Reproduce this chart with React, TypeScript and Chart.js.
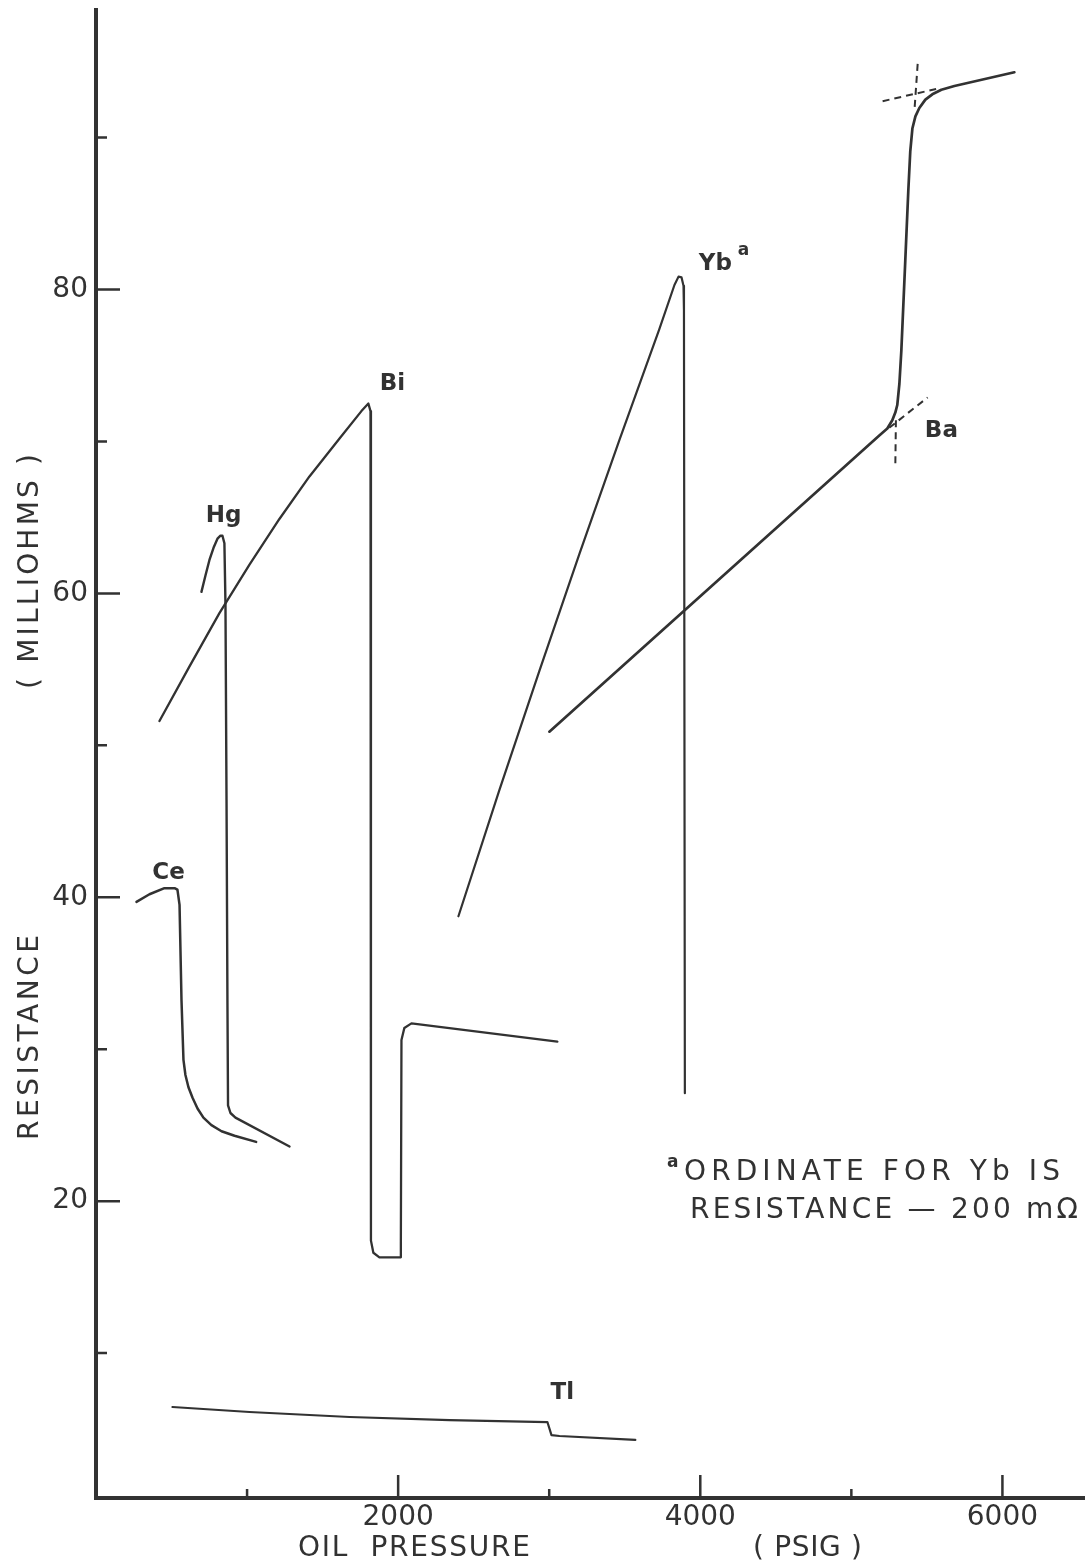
import { useEffect, useRef } from "react";
import { Chart, registerables } from "chart.js";

Chart.register(...registerables);

// Oil pressure (psig) against resistance (milliohms) for each metal
const ceP = [268, 354, 453, 520, 539, 553, 566, 579, 592, 612, 639, 672, 711, 764, 831, 917, 1060];
const ceR = [39.7, 40.2, 40.6, 40.6, 40.5, 39.5, 33.2, 29.3, 28.3, 27.5, 26.8, 26.1, 25.5, 25.0, 24.6, 24.3, 23.9];

const hgP = [698, 725, 751, 778, 804, 824, 837, 850, 857, 864, 870, 874, 890, 923, 1281];
const hgR = [60.1, 61.2, 62.2, 63.0, 63.6, 63.8, 63.8, 63.3, 59.3, 46.4, 33.2, 26.3, 25.8, 25.5, 23.6];

const biP = [420, 619, 817, 1016, 1214, 1413, 1612, 1757, 1803, 1817, 1820, 1836, 1876, 2015, 2018, 2022, 2041, 2088, 3054];
const biR = [51.6, 55.2, 58.7, 61.9, 64.9, 67.7, 70.2, 72.0, 72.5, 72.0, 17.4, 16.6, 16.3, 16.3, 17.4, 30.6, 31.4, 31.7, 30.5];

// Yb is plotted as resistance - 200 mOhm
const ybP = [2399, 2670, 2935, 3200, 3465, 3729, 3829, 3856, 3876, 3889, 3892, 3898];
const ybR = [38.75, 47.05, 54.9, 62.6, 70.1, 77.4, 80.3, 80.85, 80.8, 80.25, 78.6, 27.1];

const baP = [3001, 5185, 5238, 5271, 5291, 5304, 5318, 5331, 5357, 5377, 5390, 5404, 5424, 5450, 5490, 5536, 5596, 5682, 6079];
const baR = [50.9, 70.4, 70.85, 71.4, 71.9, 72.4, 73.8, 76.0, 81.9, 86.5, 89.1, 90.6, 91.4, 91.95, 92.5, 92.85, 93.15, 93.4, 94.3];

const tlP = [506, 1016, 1678, 2340, 2988, 3015, 3068, 3570];
const tlR = [6.45, 6.12, 5.79, 5.59, 5.46, 4.6, 4.54, 4.28];

// Construction lines marking the two Ba transition knees
const baUpperSlopeP = [5207, 5561];
const baUpperSlopeR = [92.4, 93.2];
const baUpperRiseP = [5439, 5417];
const baUpperRiseR = [94.85, 91.7];
const baLowerSlopeP = [5251, 5505];
const baLowerSlopeR = [70.9, 72.9];
const baLowerRiseP = [5295, 5291];
const baLowerRiseR = [71.4, 68.4];

// Curve labels, anchored in data coordinates
const labelNames = ["Ce", "Hg", "Bi", "Yb", "Ba", "Tl"];
const labelP = [480, 844, 1962, 4100, 5596, 3087];
const labelR = [41.6, 65.1, 73.8, 81.7, 70.7, 7.4];

// Axis ticks
const xTickValues = [1000, 2000, 3000, 4000, 5000, 6000];
const xLabelled = [2000, 4000, 6000];
const yTickValues = [10, 20, 30, 40, 50, 60, 70, 80, 90];
const yLabelled = [20, 40, 60, 80];

const INK = "#323232";
const FONT = "DejaVu Sans";

const toPoints = (p: number[], r: number[]) => p.map((x, i) => ({ x, y: r[i] }));

function spacedText(ctx: CanvasRenderingContext2D, text: string, x: number, y: number, width: number) {
  (ctx as any).letterSpacing = "0px";
  const w = ctx.measureText(text).width;
  const n = Array.from(text).length;
  const sp = n > 1 ? (width - w) / (n - 1) : 0;
  (ctx as any).letterSpacing = `${sp}px`;
  ctx.fillText(text, x, y);
  (ctx as any).letterSpacing = "0px";
}

const inwardTicks = {
  id: "inwardTicks",
  afterDraw(chart: any) {
    const { ctx, chartArea } = chart;
    const xs = chart.scales.x;
    const ys = chart.scales.y;
    ctx.save();
    ctx.strokeStyle = INK;
    ctx.lineWidth = 2.5;
    ctx.beginPath();
    xTickValues.forEach((v) => {
      const px = xs.getPixelForValue(v);
      const len = xLabelled.includes(v) ? 23 : 9;
      ctx.moveTo(px, chartArea.bottom);
      ctx.lineTo(px, chartArea.bottom - len);
    });
    yTickValues.forEach((v) => {
      const py = ys.getPixelForValue(v);
      const len = yLabelled.includes(v) ? 24 : 11;
      ctx.moveTo(chartArea.left, py);
      ctx.lineTo(chartArea.left + len, py);
    });
    ctx.stroke();
    ctx.restore();
  },
};

const annotations = {
  id: "annotations",
  afterDraw(chart: any) {
    const { ctx } = chart;
    const xs = chart.scales.x;
    const ys = chart.scales.y;
    ctx.save();
    ctx.fillStyle = INK;
    ctx.textBaseline = "middle";

    // curve labels
    ctx.font = `bold 23px ${FONT}`;
    ctx.textAlign = "center";
    labelNames.forEach((name, i) => {
      ctx.fillText(name, xs.getPixelForValue(labelP[i]), ys.getPixelForValue(labelR[i]));
    });
    // footnote marker on Yb
    ctx.font = `bold 17px ${FONT}`;
    ctx.fillText("a", xs.getPixelForValue(labelP[3]) + 28, ys.getPixelForValue(labelR[3]) - 13);

    // footnote
    ctx.textAlign = "left";
    ctx.font = `bold 17px ${FONT}`;
    ctx.fillText("a", 667, 1163);
    ctx.font = `28px ${FONT}`;
    spacedText(ctx, "ORDINATE FOR Yb IS", 684, 1173, 376);
    spacedText(ctx, "RESISTANCE \u2014 200 m\u03A9", 690, 1211, 388);

    // axis titles
    spacedText(ctx, "OIL  PRESSURE", 298, 1549, 232);
    spacedText(ctx, "( PSIG )", 753, 1549, 109);

    ctx.save();
    ctx.translate(31, 1038);
    ctx.rotate(-Math.PI / 2);
    spacedText(ctx, "RESISTANCE", -102, 0, 205);
    ctx.restore();
    ctx.save();
    ctx.translate(31, 572);
    ctx.rotate(-Math.PI / 2);
    spacedText(ctx, "( MILLIOHMS )", -117, 0, 235);
    ctx.restore();

    ctx.restore();
  },
};

export default function App() {
  const canvasRef = useRef<HTMLCanvasElement | null>(null);

  useEffect(() => {
    const canvas = canvasRef.current;
    if (!canvas) return;

    const curve = (label: string, p: number[], r: number[], width: number) => ({
      label,
      data: toPoints(p, r),
      showLine: true,
      borderColor: INK,
      borderWidth: width,
      pointRadius: 0,
      tension: 0,
      borderJoinStyle: "round" as const,
      borderCapStyle: "round" as const,
    });
    const guide = (label: string, p: number[], r: number[]) => ({
      ...curve(label, p, r, 2),
      borderDash: [7, 5],
      borderCapStyle: "butt" as const,
    });

    const chart = new Chart(canvas, {
      type: "scatter",
      data: {
        datasets: [
          curve("Ce", ceP, ceR, 2.5),
          curve("Hg", hgP, hgR, 2.4),
          curve("Bi", biP, biR, 2.3),
          curve("Yb", ybP, ybR, 2.2),
          curve("Ba", baP, baR, 2.7),
          curve("Tl", tlP, tlR, 2.2),
          guide("Ba upper slope", baUpperSlopeP, baUpperSlopeR),
          guide("Ba upper rise", baUpperRiseP, baUpperRiseR),
          guide("Ba lower slope", baLowerSlopeP, baLowerSlopeR),
          guide("Ba lower rise", baLowerRiseP, baLowerRiseR),
        ],
      },
      options: {
        responsive: false,
        animation: false,
        devicePixelRatio: 1,
        layout: { padding: { top: 10, right: 2, left: 0, bottom: 0 } },
        plugins: {
          legend: { display: false },
          tooltip: { enabled: false },
        },
        scales: {
          x: {
            type: "linear",
            min: 0,
            max: 6540,
            grid: { display: false, drawTicks: false },
            border: { display: true, width: 4, color: INK },
            ticks: {
              color: INK,
              font: { family: FONT, size: 28 },
              padding: 3,
              autoSkip: false,
              maxRotation: 0,
              callback: (v: any) => (xLabelled.includes(Number(v)) ? String(v) : ""),
            },
            afterBuildTicks: (s: any) => {
              s.ticks = xTickValues.map((value) => ({ value }));
            },
            afterFit: (s: any) => {
              s.height = 69;
              s.paddingLeft = 0;
              s.paddingRight = 0;
            },
          },
          y: {
            type: "linear",
            min: 0.46,
            max: 98.4,
            grid: { display: false, drawTicks: false },
            border: { display: true, width: 4, color: INK },
            ticks: {
              color: INK,
              font: { family: FONT, size: 28 },
              padding: 8,
              autoSkip: false,
              callback: (v: any) => (yLabelled.includes(Number(v)) ? String(v) : ""),
            },
            afterBuildTicks: (s: any) => {
              s.ticks = yTickValues.map((value) => ({ value }));
            },
            afterFit: (s: any) => {
              s.width = 96;
              s.paddingTop = 0;
              s.paddingBottom = 0;
            },
          },
        },
      },
      plugins: [inwardTicks, annotations],
    });

    return () => chart.destroy();
  }, []);

  return (
    <div style={{ position: "absolute", left: 0, top: 0, width: 1086, height: 1567, background: "#ffffff" }}>
      <canvas ref={canvasRef} width={1086} height={1567} style={{ display: "block" }} />
    </div>
  );
}
